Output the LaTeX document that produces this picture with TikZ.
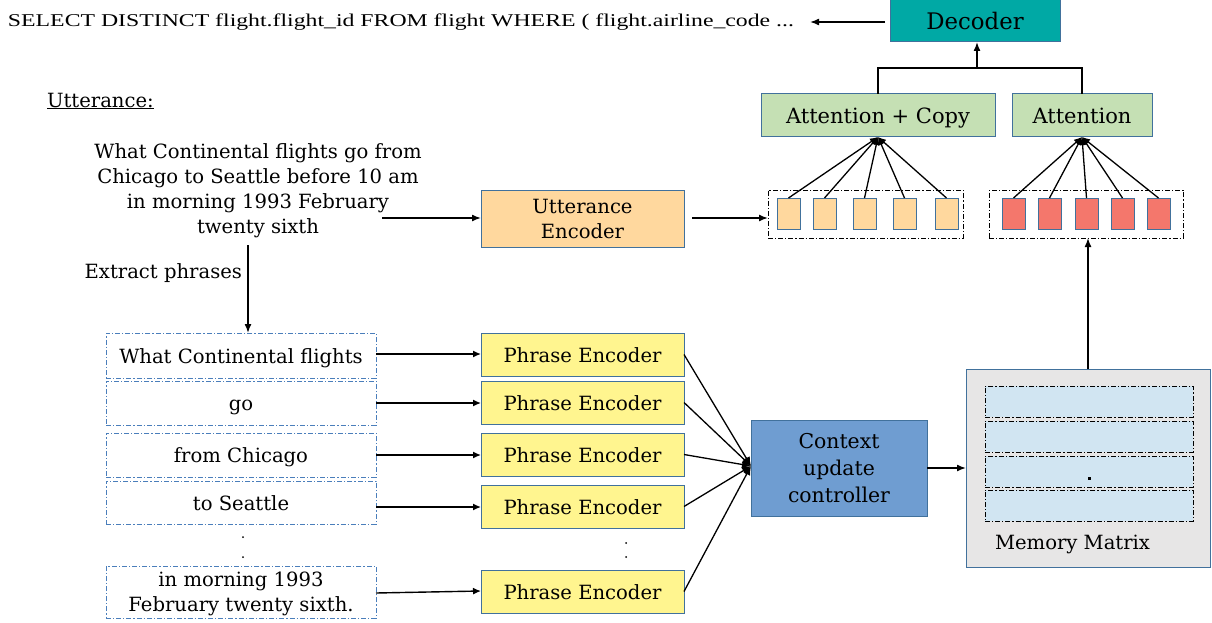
\documentclass[tikz,border=0pt]{standalone}
\usepackage{fontspec}
\setmainfont{DejaVu Serif}
\newfontfamily\timesf{Liberation Serif}
\usetikzlibrary{arrows.meta}
\definecolor{teal1}{HTML}{00A9A5}
\definecolor{green1}{HTML}{C5E0B4}
\definecolor{bord}{HTML}{41719C}
\definecolor{peach}{HTML}{FFD89E}
\definecolor{yell}{HTML}{FFF58F}
\definecolor{redq}{HTML}{F4776C}
\definecolor{ctxc}{HTML}{6F9DD1}
\definecolor{memc}{HTML}{E7E6E6}
\definecolor{rowc}{HTML}{D1E5F2}
\definecolor{dashb}{HTML}{4A7EBB}
\begin{document}
\begin{tikzpicture}[x=1pt,y=-1pt,
  every node/.style={inner sep=0pt, outer sep=0pt},
  txt/.style={font=\fontsize{19.6}{25}\selectfont, align=center},
  one/.style={text height=16.5pt, text depth=1pt},
  blk/.style={draw=bord, line width=1pt, anchor=north west, txt},
  dd/.style={dash pattern=on 5pt off 2pt on 1.2pt off 2pt},
  phr/.style={draw=dashb, dd, line width=0.9pt, anchor=north west, txt},
  arr/.style={line width=1.5pt, -{Latex[length=9pt,width=7pt]}},
  sarr/.style={line width=1.4pt, -{Latex[length=8pt,width=7pt]}},
  sqo/.style={draw=bord, fill=peach, line width=0.8pt, minimum width=23, minimum height=31, anchor=north west},
  sqr/.style={draw=bord, fill=redq, line width=0.8pt, minimum width=23, minimum height=31, anchor=north west},
  row/.style={draw=black, dd, fill=rowc, line width=0.8pt, minimum width=208, minimum height=31, anchor=north west},
]
\useasboundingbox (0,0) rectangle (1212,623);

% Decoder and SQL
\node[blk, text height=17.6pt, text depth=1pt, fill=teal1, minimum width=170, minimum height=42, font=\fontsize{22.8}{25}\selectfont] (dec) at (890,0) {Decoder};
\node[anchor=west, font=\timesf\fontsize{18}{22}\selectfont] (sql) at (8,22) {\scalebox{1.32}[1]{SELECT DISTINCT flight.flight\_id FROM flight WHERE ( flight.airline\_code ...}};
\coordinate (dl) at (885,22);
\coordinate (sqlend) at (810,22);
\draw[arr] (dl) -- (sqlend);

% attention boxes
\node[blk, text height=18pt, text depth=1pt, fill=green1, minimum width=234, minimum height=43, font=\fontsize{21}{25}\selectfont] (attc) at (761,94) {Attention + Copy};
\node[blk, text height=18pt, text depth=1pt, fill=green1, minimum width=140, minimum height=43, font=\fontsize{21}{25}\selectfont] (att) at (1012,94) {Attention};
\coordinate (jl) at (878,68);
\coordinate (jr) at (1082,68);
\coordinate (jm) at (977,68);
\draw[line width=1.3pt] (attc.north) -- (attc.north |- jl) -- (jr) -- (att.north);
\draw[arr] (jm) -- (dec.south -| jm);

% vectors
\node[draw=black, dd, line width=0.8pt, minimum width=195, minimum height=48, anchor=north west] (vb1) at (768,190) {};
\node[draw=black, dd, line width=0.8pt, minimum width=194, minimum height=48, anchor=north west] (vb2) at (989,190) {};
\foreach \i/\x in {1/777,2/813,3/853,4/893,5/935}{
  \node[sqo] (o\i) at (\x,198) {};
}
\foreach \i/\x in {1/1002,2/1038,3/1075,4/1111,5/1147}{
  \node[sqr] (r\i) at (\x,198) {};
}
\foreach \i in {1,...,5}{
  \draw[line width=1.3pt, -{Latex[length=8pt,width=7pt]}] (o\i.north) -- (attc.south);
  \draw[line width=1.3pt, -{Latex[length=8pt,width=7pt]}] (r\i.north) -- (att.south);
}

% utterance
\node[anchor=west, txt] (ul) at (47,101) {\underline{Utterance:}};
\node[txt] (utt) at (258,190.5) {What Continental flights go from\\Chicago to Seattle before 10 am\\in morning 1993 February\\twenty sixth};
\node[blk, fill=peach, minimum width=203, minimum height=57] (uenc) at (481,190) {Utterance\\Encoder};
\coordinate (ua) at (382,218);
\draw[arr] (ua) -- (uenc.west |- ua);
\coordinate (ub) at (692,218);
\draw[arr] (ub) -- (vb1.west |- ub);

\node[anchor=east, txt] (ex) at (242,273) {Extract phrases};
\coordinate (ed) at (248,245);

% phrases
\node[phr, one, minimum width=270, minimum height=45] (p1) at (106,333) {What Continental flights};
\node[phr, one, minimum width=270, minimum height=44] (p2) at (106,381) {go};
\node[phr, one, minimum width=270, minimum height=44] (p3) at (106,433) {from Chicago};
\node[phr, one, minimum width=270, minimum height=43] (p4) at (106,481) {to Seattle};
\node[phr, text depth=0pt, minimum width=270, minimum height=52] (p5) at (106,566) {in morning 1993\\February twenty sixth.};
\draw[arr] (ed) -- (ed |- p1.north);
\fill (243,537) circle (1pt) (243,557) circle (1pt);

% encoders
\foreach \i/\y in {1/333,2/381,3/433,4/485,5/570}{
  \node[blk, one, fill=yell, minimum width=203, minimum height=43] (e\i) at (481,\y) {Phrase Encoder};
}
\fill (626,543) circle (1pt) (626,557) circle (1pt);
\draw[sarr] (p1.east |- 0,354) -- (e1.west |- 0,354);
\draw[sarr] (p2.east) -- (e2.west |- p2.east);
\draw[sarr] (p3.east) -- (e3.west |- p3.east);
\draw[sarr] (p4.east |- 0,507) -- (e4.west |- 0,507);
\draw[sarr] (p5.east |- 0,593) -- (e5.west |- 0,591);

% context controller
\node[blk, fill=ctxc, minimum width=176, minimum height=96, font=\fontsize{20.4}{27}\selectfont] (ctx) at (751,420) {Context\\update\\controller};
\coordinate (cin) at (751,466);
\foreach \i in {1,...,5}{
  \draw[line width=1.3pt, -{Latex[length=9pt,width=8pt]}] (e\i.east) -- (cin);
}

% memory
\node[draw=bord, fill=memc, line width=1pt, minimum width=244, minimum height=198, anchor=north west] (mem) at (966,369) {};
\foreach \i/\y in {1/386,2/421,3/456,4/490}{
  \node[row] (m\i) at (985,\y) {};
}
\fill (1087.5,477) rectangle (1090.5,480);
\node[anchor=west, txt] (ml) at (995,544) {Memory Matrix};
\draw[arr] (ctx.east |- 0,468) -- (mem.west |- 0,468);
\draw[arr] (mem.north -| 1088,0) -- (vb2.south -| 1088,0);
\end{tikzpicture}
\end{document}
